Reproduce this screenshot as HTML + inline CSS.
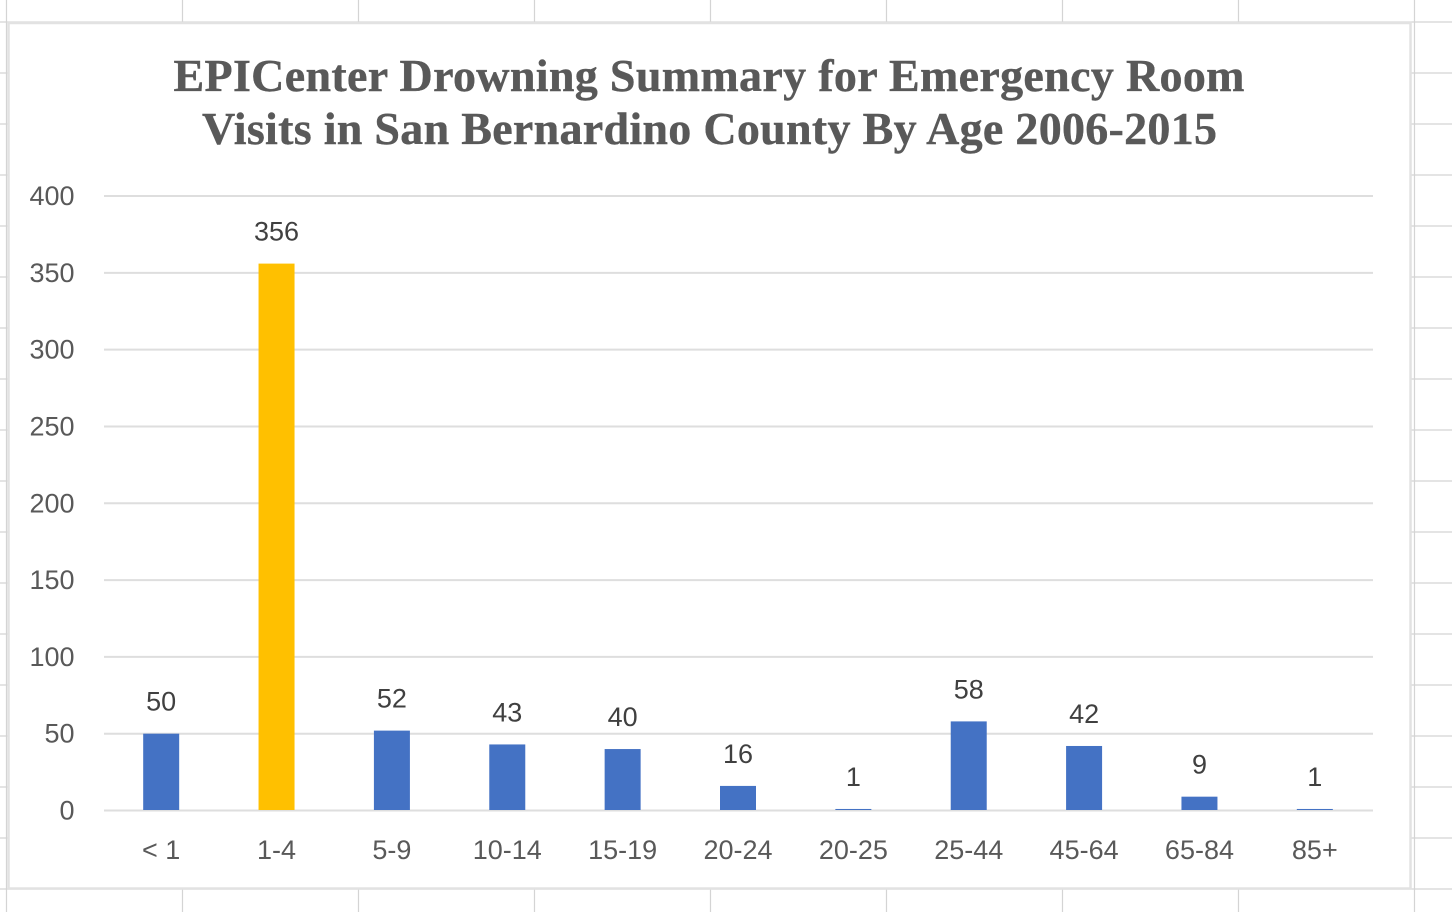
<!DOCTYPE html>
<html lang="en">
<head>
<meta charset="utf-8">
<title>EPICenter Drowning Summary</title>
<style>
html,body{margin:0;padding:0;background:#fff;width:1452px;height:912px;overflow:hidden}
svg{display:block}
</style>
</head>
<body>
<svg id="chart" xmlns="http://www.w3.org/2000/svg" width="1452" height="912" viewBox="0 0 1452 912">
  <g id="sheet"></g>
  <rect x="8.5" y="23" width="1402" height="865.5" fill="#fff" stroke="#e2e2e2" stroke-width="2.5"/>
  <text x="709" y="91" text-anchor="middle" textLength="1071" lengthAdjust="spacing" font-family="'Liberation Serif',serif" font-weight="700" font-size="46" fill="#595959" stroke="#595959" stroke-width="0.4">EPICenter Drowning Summary for Emergency Room</text>
  <text x="709.5" y="144" text-anchor="middle" textLength="1015" lengthAdjust="spacing" font-family="'Liberation Serif',serif" font-weight="700" font-size="46" fill="#595959" stroke="#595959" stroke-width="0.4">Visits in San Bernardino County By Age 2006-2015</text>
  <g id="grid"></g>
  <g id="yticks"></g>
  <g id="bars"></g>
  <g id="values"></g>
  <g id="xticks"></g>
</svg>
<script>
var categories = ['< 1', '1-4', '5-9', '10-14', '15-19', '20-24', '20-25', '25-44', '45-64', '65-84', '85+'];
var visits = [50, 356, 52, 43, 40, 16, 1, 58, 42, 9, 1];
var yTicks = [0, 50, 100, 150, 200, 250, 300, 350, 400];
var highlightCategory = '1-4';

var NS = 'http://www.w3.org/2000/svg';
var plotLeft = 104, plotRight = 1373, plotTop = 196, plotBottom = 810.5;
var yMax = 400;
var barWidth = 36;
var font = "'Liberation Sans',sans-serif";

function yScale(v) {
  return plotBottom - (v / yMax) * (plotBottom - plotTop);
}
function xCenter(i) {
  return plotLeft + (i + 0.5) * (plotRight - plotLeft) / categories.length - 0.5;
}
function make(tag, attrs, parent, text) {
  var el = document.createElementNS(NS, tag);
  for (var k in attrs) el.setAttribute(k, attrs[k]);
  if (text !== undefined) el.textContent = text;
  parent.appendChild(el);
  return el;
}

var sheet = document.getElementById('sheet');
var gridGroup = document.getElementById('grid');
var yGroup = document.getElementById('yticks');
var barGroup = document.getElementById('bars');
var valueGroup = document.getElementById('values');
var xGroup = document.getElementById('xticks');

/* Spreadsheet cell lines behind the chart */
for (var sx = 6.5; sx < 1452; sx += 176) {
  var cellV = make('line', {x1: sx, x2: sx, y1: 0, y2: 912, stroke: '#d4d4d4', 'stroke-width': 1.2}, sheet);
  
  
}
for (var sy = 22; sy < 912; sy += 51) {
  var cellH = make('line', {x1: 0, x2: 1452, y1: sy, y2: sy, stroke: '#d4d4d4', 'stroke-width': 1.2}, sheet);
  
  
}

yTicks.forEach(function (t) {
  var line = make('line', {x1: plotLeft, x2: plotRight, y1: yScale(t), y2: yScale(t), stroke: '#dedede', 'stroke-width': 2}, gridGroup);
  
  
  var label = make('text', {x: 74.5, y: yScale(t) + 9, 'text-anchor': 'end', 'font-family': font, 'font-size': 27, fill: '#595959'}, yGroup, String(t));
  
  
});

categories.forEach(function (c, i) {
  var v = visits[i];
  var cx = xCenter(i);
  var top = yScale(v);
  var bar = make('rect', {x: cx - barWidth / 2, y: top, width: barWidth, height: plotBottom - top - 0.5, fill: c === highlightCategory ? '#ffc000' : '#4472c4'}, barGroup);
  
  
  var val = make('text', {x: cx, y: top - 23, 'text-anchor': 'middle', 'font-family': font, 'font-size': 27, fill: '#404040'}, valueGroup, String(v));
  
  
  var cat = make('text', {x: cx, y: 859, 'text-anchor': 'middle', 'font-family': font, 'font-size': 27, fill: '#595959'}, xGroup, c);
  
  
});
</script>
</body>
</html>
